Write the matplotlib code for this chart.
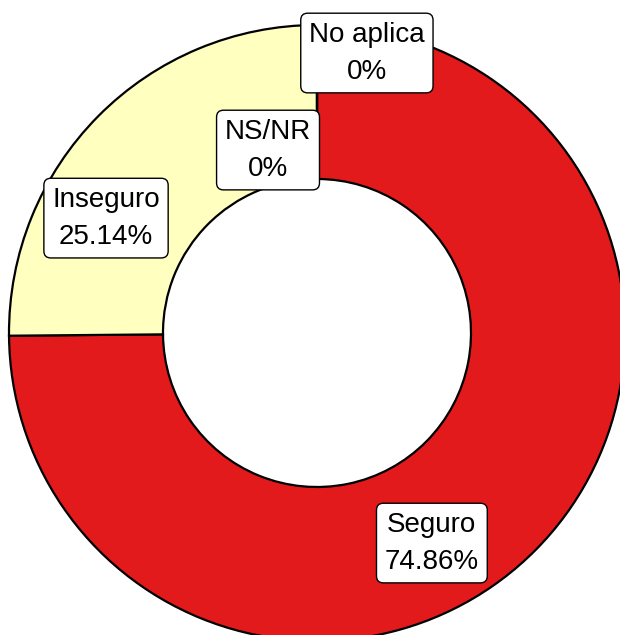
import matplotlib.pyplot as plt

# data
categories = ["Seguro", "Inseguro", "NS/NR", "No aplica"]
values = [74.86, 25.14, 0, 0]
labels = ["74.86%", "25.14%", "0%", "0%"]
colors = ["#E31A1C", "#FFFFBF", "#FFFFBF", "#FFFFBF"]

# label positions (data units, ring radius = 1)
label_pos = {
    "Seguro": (0.373, -0.682),
    "Inseguro": (-0.685, 0.373),
    "NS/NR": (-0.159, 0.594),
    "No aplica": (0.162, 0.909),
}

plt.rcParams['font.family'] = ['Liberation Sans', 'DejaVu Sans']

fig = plt.figure(figsize=(6.2, 6.35), dpi=100)
ax = fig.add_axes([0, 0, 1, 1])

ax.pie(values, colors=colors, startangle=90, counterclock=False,
       radius=1, wedgeprops=dict(width=0.5, edgecolor="black", linewidth=1.6))

for cat, lab in zip(categories, labels):
    x, y = label_pos[cat]
    ax.text(x, y, cat + "\n" + lab, ha="center", va="center", fontsize=20,
            linespacing=1.55,
            bbox=dict(boxstyle="round,pad=0.3,rounding_size=0.25",
                      facecolor="white", edgecolor="black", linewidth=1))

ax.set_xlim(-317 / 308, 303 / 308)
ax.set_ylim(-302 / 308, 333 / 308)
ax.set_aspect("equal")
ax.axis("off")

fig.savefig("out.png", dpi=100)
